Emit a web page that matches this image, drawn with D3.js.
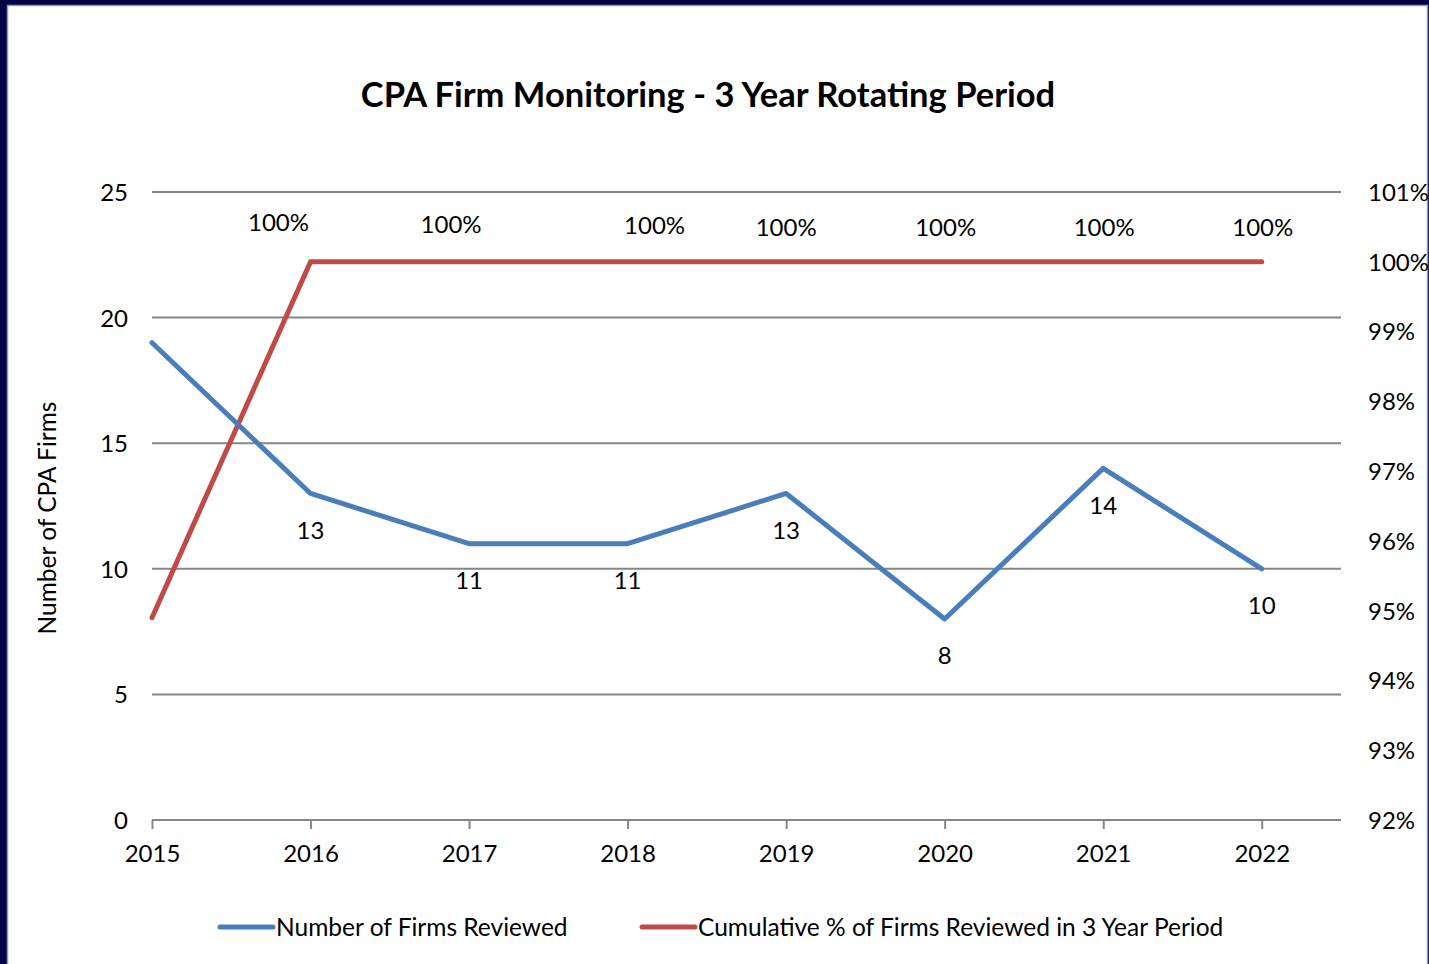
<!DOCTYPE html>
<html>
<head>
<meta charset="utf-8">
<script src="https://cdn.jsdelivr.net/npm/d3@7"></script>
<style>
  html, body { margin: 0; padding: 0; background: #020245; }
  svg { display: block; }
  text { font-family: Lato, "Open Sans", sans-serif; fill: #000; }
</style>
</head>
<body>
<div id="chart"></div>
<script>
// 数据
const years = ["2015", "2016", "2017", "2018", "2019", "2020", "2021", "2022"]
const firmsReviewed = [19, 13, 11, 11, 13, 8, 14, 10]
const cumulativePct = [0.949, 1, 1, 1, 1, 1, 1, 1]
const leftTicks = [0, 5, 10, 15, 20, 25]
const rightTicks = [0.92, 0.93, 0.94, 0.95, 0.96, 0.97, 0.98, 0.99, 1.00, 1.01]
// which points carry a data label
const firmsLabelShown = [false, true, true, true, true, true, true, true]
const pctLabelShown = [false, true, true, true, true, true, true, true]

const W = 1429, H = 964
const blue = "#4a7ebb", red = "#be4b48", grid = "#868686"
const fs = "24px"

const svg = d3.select("#chart").append("svg").attr("width", W).attr("height", H)

// 外框
svg.append("rect").attr("x", 0).attr("y", 0).attr("width", W).attr("height", H).attr("fill", "#020245")
svg.append("rect").attr("x", 7.5).attr("y", 5.5).attr("width", 1420).attr("height", 980)
  .attr("fill", "#fff").attr("stroke", "#9a9a9a").attr("stroke-width", 1.5)

const plot = { left: 152, right: 1341, top: 192, bottom: 820 }

const x = d3.scaleLinear().domain([0, years.length - 0.5]).range([plot.left, plot.right])
const yL = d3.scaleLinear().domain([0, 25]).range([plot.bottom, plot.top])
const yR = d3.scaleLinear().domain([0.92, 1.01]).range([plot.bottom, plot.top])

// 标题
svg.append("text").attr("x", 708).attr("y", 107).attr("text-anchor", "middle")
  .style("font-size", "34.5px").style("font-weight", "bold")
  .text("CPA Firm Monitoring - 3 Year Rotating Period")

// 网格线
svg.append("g").selectAll("line").data(leftTicks).enter().append("line")
  .attr("x1", plot.left).attr("x2", plot.right)
  .attr("y1", d => yL(d)).attr("y2", d => yL(d))
  .attr("stroke", grid).attr("stroke-width", 2)

// 左轴
const leftAxis = svg.append("g").attr("transform", `translate(${plot.left},0)`)
  .call(d3.axisLeft(yL).tickValues(leftTicks).tickSize(0).tickPadding(24))
leftAxis.select(".domain").remove()
leftAxis.selectAll("text").style("font-size", fs).attr("dy", "0.35em")

// 右轴
const rightAxis = svg.append("g").attr("transform", `translate(${plot.right},0)`)
  .call(d3.axisRight(yR).tickValues(rightTicks).tickSize(0).tickPadding(27).tickFormat(d3.format(".0%")))
rightAxis.select(".domain").remove()
rightAxis.selectAll("text").style("font-size", fs).attr("dy", "0.35em")

// 底轴
const xAxis = svg.append("g").attr("transform", `translate(0,${plot.bottom})`)
  .call(d3.axisBottom(x).tickValues(d3.range(years.length)).tickSize(9).tickPadding(16)
    .tickFormat(i => years[i]))
xAxis.select(".domain").attr("d", `M${plot.left},0H${plot.right}`).attr("stroke", grid).attr("stroke-width", 2)
xAxis.selectAll(".tick line").attr("stroke", grid).attr("stroke-width", 2)
xAxis.selectAll("text").style("font-size", fs)

// y轴标题
svg.append("text").attr("transform", "translate(56,518) rotate(-90)").attr("text-anchor", "middle")
  .style("font-size", "24.5px").text("Number of CPA Firms")

// 折线
const lineL = d3.line().x((d, i) => x(i)).y(d => yL(d))
const lineR = d3.line().x((d, i) => x(i)).y(d => yR(d))

svg.append("path").datum(cumulativePct).attr("d", lineR)
  .attr("fill", "none").attr("stroke", red).attr("stroke-width", 5)
  .attr("stroke-linejoin", "round").attr("stroke-linecap", "round")

svg.append("path").datum(firmsReviewed).attr("d", lineL)
  .attr("fill", "none").attr("stroke", blue).attr("stroke-width", 5)
  .attr("stroke-linejoin", "round").attr("stroke-linecap", "round")

// 数据标签 (red labels were moved by hand in the original sheet)
const pctLabelDx = [0, -32, -18, 27, 0, 1, 1, 1]
const pctLabelDy = [0, -39, -37, -36, -34, -34, -34, -34]
const pctLabels = cumulativePct.map((v, i) => ({ v, i })).filter(d => pctLabelShown[d.i])
svg.append("g").selectAll("text").data(pctLabels).enter()
  .append("text")
  .attr("x", d => x(d.i) + pctLabelDx[d.i])
  .attr("y", d => yR(d.v) + pctLabelDy[d.i])
  .attr("text-anchor", "middle").attr("dy", "0.35em")
  .style("font-size", fs)
  .text(d => d3.format(".0%")(d.v))

const firmLabels = firmsReviewed.map((v, i) => ({ v, i })).filter(d => firmsLabelShown[d.i])
svg.append("g").selectAll("text").data(firmLabels).enter()
  .append("text")
  .attr("x", d => x(d.i))
  .attr("y", d => yL(d.v) + 37)
  .attr("text-anchor", "middle").attr("dy", "0.35em")
  .style("font-size", fs)
  .text(d => d.v)

// 图例
const legendItems = [
  { name: "Number of Firms Reviewed", color: blue, x: 218 },
  { name: "Cumulative % of Firms Reviewed in 3 Year Period", color: red, x: 640 }
]
const lg = svg.append("g").selectAll("g").data(legendItems).enter().append("g")
  .attr("transform", d => `translate(${d.x},927)`)
lg.append("line").attr("x1", 2).attr("x2", 55).attr("y1", 0).attr("y2", 0)
  .attr("stroke", d => d.color).attr("stroke-width", 5).attr("stroke-linecap", "round")
lg.append("text").attr("x", 58).attr("dy", "0.35em").style("font-size", "24.5px").text(d => d.name)
</script>
</body>
</html>
